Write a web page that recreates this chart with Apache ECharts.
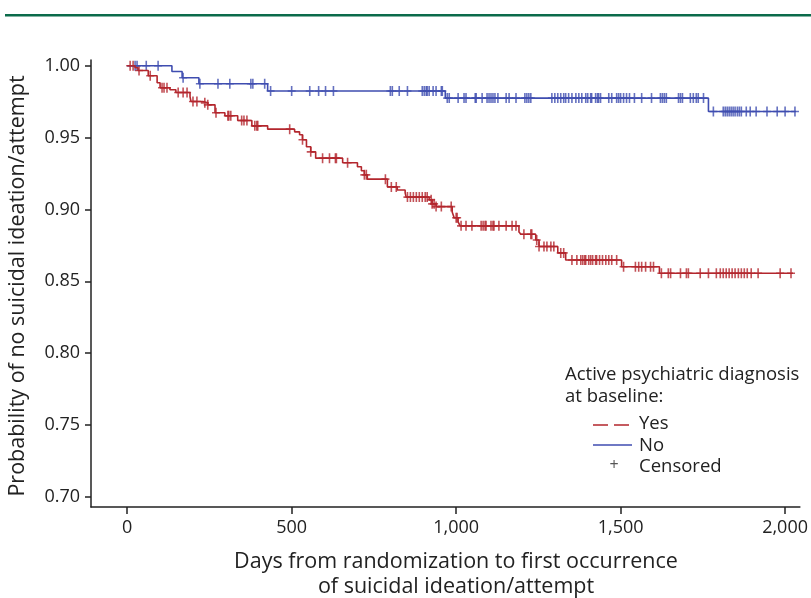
<!DOCTYPE html>
<html>
<head>
<meta charset="utf-8">
<script src="https://cdn.jsdelivr.net/npm/echarts@6/dist/echarts.min.js"></script>
<style>
  html, body { margin: 0; padding: 0; background: #fff; }
  #chart { width: 811px; height: 598px; }
</style>
</head>
<body>
<div id="chart"></div>
<script>
/* KM curves: suicidal ideation/attempt by active psychiatric diagnosis */

// ---- data (days / survival probability) ----
const xTicks = [0, 500, 1000, 1500, 2000];
const yTicks = [0.70, 0.75, 0.80, 0.85, 0.90, 0.95, 1.00];

// "No" group: event steps
const noStepDays = [0, 136, 167, 218, 427, 967, 1767];
const noStepSurv = [1.000, 0.996, 0.9916, 0.9875, 0.9824, 0.9775, 0.9682];
const noEndDay = 2033;
const noCensorDays = [24, 30, 58, 94, 170, 221, 276, 312, 376, 382, 418, 436, 500, 555, 582, 603, 627,
  800, 806, 827, 852, 897, 903, 909, 912, 918, 930, 939, 955, 958, 973, 979, 1006, 1024, 1030, 1058,
  1061, 1079, 1094, 1100, 1106, 1112, 1118, 1127, 1152, 1161, 1182, 1209, 1215, 1221, 1227, 1291,
  1300, 1309, 1318, 1327, 1333, 1342, 1352, 1364, 1373, 1382, 1394, 1400, 1409, 1412, 1424, 1430,
  1433, 1439, 1464, 1473, 1488, 1494, 1500, 1509, 1518, 1527, 1542, 1564, 1594, 1621, 1627, 1633,
  1639, 1676, 1682, 1688, 1712, 1721, 1730, 1736, 1752, 1782, 1812, 1818, 1824, 1830, 1836, 1842,
  1848, 1855, 1861, 1867, 1882, 1894, 1912, 1945, 1976, 2000, 2030];

// "Yes" group: event steps
const yesStepDays = [0, 24, 33, 64, 91, 100, 130, 148, 191, 194, 230, 245, 267, 297, 336, 379, 427,
  509, 524, 533, 545, 558, 573, 655, 700, 712, 721, 730, 791, 821, 845, 848, 918, 927, 939, 988,
  994, 1006, 1012, 1191, 1197, 1242, 1252, 1309, 1333, 1503, 1618];
const yesStepSurv = [1.000, 0.9986, 0.9967, 0.9930, 0.9882, 0.9847, 0.9833, 0.9814, 0.9784, 0.9751,
  0.9742, 0.9728, 0.9673, 0.9652, 0.9619, 0.9582, 0.9559, 0.9540, 0.9520, 0.9485, 0.9436, 0.9401,
  0.9357, 0.9325, 0.9297, 0.9269, 0.9241, 0.9211, 0.9157, 0.9136, 0.9116, 0.9086, 0.9067, 0.9039,
  0.9020, 0.8983, 0.8942, 0.8914, 0.8886, 0.8844, 0.8828, 0.8788, 0.8742, 0.8698, 0.8649, 0.8602,
  0.8556];
const yesEndDay = 2024;
const yesCensorDays = [9, 18, 36, 70, 106, 112, 121, 155, 170, 182, 200, 212, 236, 245, 270, 306, 309,
  315, 348, 355, 364, 388, 394, 397, 494, 533, 558, 594, 615, 633, 636, 670, 721, 727, 785, 803, 818,
  852, 861, 870, 879, 888, 897, 906, 912, 924, 927, 933, 939, 955, 985, 1000, 1003, 1015, 1030, 1048,
  1076, 1082, 1088, 1091, 1106, 1112, 1115, 1130, 1152, 1170, 1182, 1206, 1227, 1230, 1245, 1252,
  1267, 1276, 1288, 1297, 1318, 1327, 1352, 1367, 1379, 1385, 1391, 1394, 1403, 1409, 1415, 1424,
  1427, 1436, 1445, 1455, 1464, 1473, 1488, 1509, 1545, 1555, 1564, 1576, 1591, 1600, 1624, 1645,
  1652, 1682, 1700, 1706, 1742, 1767, 1791, 1803, 1812, 1821, 1830, 1839, 1848, 1858, 1867, 1876,
  1885, 1897, 1918, 1985, 2018];

// ---- styling ----
const RED = '#b3262d';
const BLUE = '#3f4db0';
const INK = '#222';
const FONT = '"Open Sans", "Noto Sans", sans-serif';
const PLUS = 'path://M3.2,0H4.8V4.2H8V5.8H4.8V10H3.2V5.8H0V4.2H3.2Z';

function buildSteps(days, surv, endDay) {
  const pts = days.map((d, i) => [d, surv[i]]);
  pts.push([endDay, surv[surv.length - 1]]);
  return pts;
}
function survAt(days, surv, t) {
  let s = surv[0];
  for (let i = 0; i < days.length; i++) { if (days[i] <= t) s = surv[i]; }
  return s;
}
function censorPts(cDays, days, surv) {
  return cDays.map(d => [d, survAt(days, surv, d)]);
}

const chart = echarts.init(document.getElementById('chart'), null, { renderer: 'canvas' });

const axisLineStyle = { lineStyle: { color: INK, width: 1.5 } };

chart.setOption({
  backgroundColor: '#fff',
  animation: false,
  textStyle: { fontFamily: FONT },
  grid: { left: 91, right: 9, top: 60, bottom: 91 },
  xAxis: {
    type: 'value',
    min: -110,
    max: 2045,
    axisLine: Object.assign({ show: true, onZero: false }, axisLineStyle),
    axisTick: { show: true, length: 7, customValues: xTicks, lineStyle: { color: INK, width: 1.5 } },
    axisLabel: {
      customValues: xTicks, margin: 12, color: INK, fontSize: 18, fontFamily: FONT,
      formatter: v => v.toLocaleString('en-US')
    },
    splitLine: { show: false }
  },
  yAxis: {
    type: 'value',
    min: 0.693,
    max: 1.004,
    axisLine: Object.assign({ show: true, onZero: false }, axisLineStyle),
    axisTick: { show: true, length: 6, customValues: yTicks, lineStyle: { color: INK, width: 1.5 } },
    axisLabel: {
      customValues: yTicks, margin: 11, color: INK, fontSize: 18, fontFamily: FONT,
      formatter: v => v.toFixed(2)
    },
    splitLine: { show: false }
  },
  series: [
    {
      name: 'No', type: 'line', step: 'end', symbol: 'none',
      data: buildSteps(noStepDays, noStepSurv, noEndDay),
      lineStyle: { color: BLUE, width: 1.6 }
    },
    {
      name: 'No censored', type: 'scatter', symbol: PLUS, symbolSize: [8, 10],
      data: censorPts(noCensorDays, noStepDays, noStepSurv),
      itemStyle: { color: BLUE }
    },
    {
      name: 'Yes', type: 'line', step: 'end', symbol: 'none',
      data: buildSteps(yesStepDays, yesStepSurv, yesEndDay),
      lineStyle: { color: RED, width: 1.6 }
    },
    {
      name: 'Yes censored', type: 'scatter', symbol: PLUS, symbolSize: [8, 10],
      data: censorPts(yesCensorDays, yesStepDays, yesStepSurv),
      itemStyle: { color: RED }
    }
  ],
  graphic: [
    // journal header rule
    { type: 'rect', shape: { x: 5, y: 14, width: 806, height: 2.5 }, style: { fill: '#0b6b4a' } },
    // axis titles
    {
      type: 'text', x: 456, y: 574,
      style: {
        text: 'Days from randomization to first occurrence\nof suicidal ideation/attempt',
        font: '21.5px ' + FONT, fill: INK, align: 'center', verticalAlign: 'middle', lineHeight: 25
      }
    },
    {
      type: 'text', x: 18, y: 286, rotation: Math.PI / 2,
      style: {
        text: 'Probability of no suicidal ideation/attempt',
        font: '21.5px ' + FONT, fill: INK, align: 'center', verticalAlign: 'middle'
      }
    },
    // legend
    { type: 'text', x: 565, y: 375, style: { text: 'Active psychiatric diagnosis', font: '18.5px ' + FONT, fill: INK, verticalAlign: 'middle' } },
    { type: 'text', x: 565, y: 397, style: { text: 'at baseline:', font: '18.5px ' + FONT, fill: INK, verticalAlign: 'middle' } },
    { type: 'line', shape: { x1: 593, y1: 425, x2: 631, y2: 425 }, style: { stroke: RED, lineWidth: 1.3, lineDash: [15, 6] } },
    { type: 'text', x: 639, y: 424, style: { text: 'Yes', font: '18.5px ' + FONT, fill: INK, verticalAlign: 'middle' } },
    { type: 'line', shape: { x1: 593, y1: 445, x2: 632, y2: 445 }, style: { stroke: BLUE, lineWidth: 1.3 } },
    { type: 'text', x: 639, y: 446, style: { text: 'No', font: '18.5px ' + FONT, fill: INK, verticalAlign: 'middle' } },
    { type: 'text', x: 614, y: 465, style: { text: '+', font: '16px ' + FONT, fill: '#555', align: 'center', verticalAlign: 'middle' } },
    { type: 'text', x: 639, y: 467, style: { text: 'Censored', font: '18.5px ' + FONT, fill: INK, verticalAlign: 'middle' } }
  ]
});
</script>
</body>
</html>
